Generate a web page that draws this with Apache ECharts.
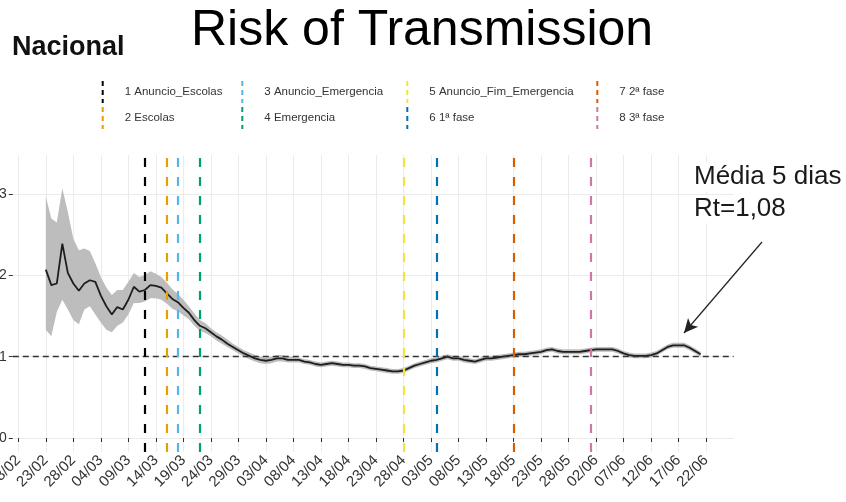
<!DOCTYPE html>
<html>
<head>
<meta charset="utf-8">
<script src="https://cdn.jsdelivr.net/npm/echarts@6/dist/echarts.min.js"></script>
<style>
html,body{margin:0;padding:0;background:#fff;}
#chart{width:846px;height:502px;}
</style>
</head>
<body>
<div id="chart"></div>
<script>
// ---------- DATA ----------
const axisDates = [
'17/02','18/02','19/02','20/02','21/02','22/02','23/02','24/02','25/02','26/02','27/02','28/02','29/02',
'01/03','02/03','03/03','04/03','05/03','06/03','07/03','08/03','09/03','10/03','11/03','12/03','13/03','14/03','15/03','16/03','17/03','18/03','19/03','20/03','21/03','22/03','23/03','24/03','25/03','26/03','27/03','28/03','29/03','30/03','31/03',
'01/04','02/04','03/04','04/04','05/04','06/04','07/04','08/04','09/04','10/04','11/04','12/04','13/04','14/04','15/04','16/04','17/04','18/04','19/04','20/04','21/04','22/04','23/04','24/04','25/04','26/04','27/04','28/04','29/04','30/04',
'01/05','02/05','03/05','04/05','05/05','06/05','07/05','08/05','09/05','10/05','11/05','12/05','13/05','14/05','15/05','16/05','17/05','18/05','19/05','20/05','21/05','22/05','23/05','24/05','25/05','26/05','27/05','28/05','29/05','30/05','31/05',
'01/06','02/06','03/06','04/06','05/06','06/06','07/06','08/06','09/06','10/06','11/06','12/06','13/06','14/06','15/06','16/06','17/06','18/06','19/06','20/06','21/06','22/06','23/06','24/06','25/06','26/06','27/06'
];
const tickLabels = ['18/02','23/02','28/02','04/03','09/03','14/03','19/03','24/03','29/03','03/04','08/04','13/04','18/04','23/04','28/04','03/05','08/05','13/05','18/05','23/05','28/05','02/06','07/06','12/06','17/06','22/06'];
const yTicks = [0, 1, 2, 3];

// Rt series starts on this date (one value per day)
const rtStart = '23/02';
const rtValues = [
2.07,1.88,1.90,2.39,2.03,1.90,1.81,1.90,1.94,1.92,
1.75,1.62,1.52,1.61,1.58,1.70,1.86,1.80,1.82,1.88,
1.87,1.85,1.78,1.71,1.67,1.60,1.54,1.45,1.38,1.35,
1.30,1.25,1.21,1.16,1.12,1.08,1.04,1.01,0.98,0.96,
0.95,0.96,0.98,0.98,0.96,0.96,0.96,0.94,0.93,0.91,
0.90,0.91,0.92,0.91,0.90,0.90,0.89,0.89,0.88,0.86,
0.85,0.84,0.83,0.82,0.82,0.83,0.86,0.89,0.91,0.93,
0.95,0.96,0.98,1.00,0.98,0.98,0.96,0.95,0.94,0.96,
0.98,0.98,0.99,1.00,1.01,1.02,1.03,1.03,1.04,1.05,
1.06,1.08,1.09,1.07,1.06,1.06,1.06,1.06,1.07,1.08,
1.09,1.09,1.09,1.09,1.07,1.04,1.02,1.01,1.01,1.01,
1.02,1.04,1.08,1.12,1.14,1.14,1.14,1.11,1.07,1.03
];
const rtLower = [
1.33,1.25,1.55,1.70,1.58,1.45,1.40,1.58,1.62,1.52,
1.42,1.33,1.30,1.38,1.42,1.52,1.66,1.66,1.68,1.72,
1.72,1.70,1.65,1.59,1.56,1.51,1.46,1.38,1.32,1.29,
1.25,1.20,1.16,1.12,1.08,1.04,1.00,0.97,0.94,0.92,
0.91,0.92,0.94,0.94,0.93,0.93,0.93,0.91,0.90,0.88,
0.87,0.88,0.89,0.88,0.87,0.87,0.86,0.86,0.85,0.83,
0.82,0.81,0.80,0.79,0.79,0.80,0.83,0.86,0.88,0.90,
0.92,0.93,0.95,0.97,0.95,0.95,0.93,0.92,0.91,0.93,
0.95,0.95,0.96,0.97,0.98,0.99,1.00,1.00,1.01,1.02,
1.03,1.05,1.06,1.04,1.03,1.03,1.03,1.03,1.04,1.05,
1.06,1.06,1.06,1.06,1.04,1.01,0.99,0.98,0.98,0.98,
0.99,1.01,1.05,1.09,1.11,1.11,1.11,1.08,1.04,1.00
];
const rtUpper = [
2.97,2.70,2.65,3.07,2.78,2.45,2.31,2.33,2.30,2.15,
1.98,1.85,1.76,1.82,1.82,1.92,2.03,1.98,2.00,2.05,
2.02,1.98,1.91,1.83,1.77,1.70,1.62,1.53,1.45,1.41,
1.35,1.30,1.26,1.21,1.16,1.12,1.08,1.05,1.02,1.00,
0.99,1.00,1.02,1.02,1.00,1.00,0.99,0.97,0.96,0.94,
0.93,0.94,0.95,0.94,0.93,0.93,0.92,0.92,0.91,0.89,
0.88,0.87,0.86,0.85,0.85,0.86,0.89,0.92,0.94,0.96,
0.98,0.99,1.01,1.03,1.01,1.01,0.99,0.98,0.97,0.99,
1.01,1.01,1.02,1.03,1.04,1.05,1.06,1.06,1.07,1.08,
1.09,1.11,1.12,1.10,1.09,1.09,1.09,1.09,1.10,1.11,
1.12,1.12,1.12,1.12,1.10,1.07,1.05,1.04,1.04,1.04,
1.05,1.07,1.11,1.15,1.17,1.17,1.17,1.14,1.10,1.06
];

const eventNames  = ['1 Anuncio_Escolas','2 Escolas','3 Anuncio_Emergencia','4 Emergencia','5 Anuncio_Fim_Emergencia','6 1ª fase','7 2ª fase','8 3ª fase'];
const eventDates  = ['12/03','16/03','18/03','22/03','28/04','04/05','18/05','01/06'];
const eventColors = ['#000000','#E69F00','#56B4E9','#009E73','#F0E442','#0072B2','#D55E00','#CC79A7'];

const refLine = 1;
const annotationLines = ['Média 5 dias', 'Rt=1,08'];

// ---------- BUILD ----------
const FONT = "'Liberation Sans', Arial, sans-serif";
const off = axisDates.indexOf(rtStart);
function align(arr) {
  return axisDates.map((d, i) => {
    const k = i - off;
    return (k >= 0 && k < arr.length) ? arr[k] : '-';
  });
}
const lowerData = align(rtLower);
const bandData = align(rtUpper.map((u, i) => +(u - rtLower[i]).toFixed(3)));
const lineData = align(rtValues);
const isTick = (idx, val) => tickLabels.indexOf(val) >= 0;

const series = [
  { name: 'ciLower', type: 'line', data: lowerData, stack: 'ci', symbol: 'none',
    lineStyle: { opacity: 0 }, silent: true, z: 1 },
  { name: 'ciBand', type: 'line', data: bandData, stack: 'ci', symbol: 'none',
    lineStyle: { opacity: 0 }, areaStyle: { color: '#bdbdbd', opacity: 1 }, silent: true, z: 1 },
  { name: 'Rt', type: 'line', data: lineData, symbol: 'none', z: 3,
    lineStyle: { color: '#1e1e1e', width: 1.8 },
    markLine: { silent: true, symbol: 'none', label: { show: false },
      lineStyle: { color: '#333', type: [6, 4], width: 1.4 },
      data: [{ yAxis: refLine }] } },
  { name: 'arrow', type: 'line', data: [], z: 6,
    markLine: { silent: true, symbol: ['none', 'arrow'], symbolSize: [10, 14], label: { show: false },
      lineStyle: { color: '#222', width: 1.2, type: 'solid' },
      data: [[{ x: 762, y: 242 }, { x: 684, y: 333 }]] } }
];
eventNames.forEach((n, i) => {
  series.push({
    name: n, type: 'line', data: [], z: 5,
    itemStyle: { color: eventColors[i] }, lineStyle: { color: eventColors[i] },
    markLine: { silent: true, symbol: 'none', label: { show: false }, animation: false,
      lineStyle: { color: eventColors[i], type: [9, 10], width: 2.2 },
      data: [{ xAxis: eventDates[i] }] }
  });
});

const keyX = [102.7, 242.3, 407.3, 597.3];
const rowTop = [81, 107];
const legendIcon = 'path://M0,0h2v5h-2zM0,9h2v5h-2zM0,18h2v4h-2z';
const legends = eventNames.map((n, i) => ({
  data: [n],
  left: keyX[Math.floor(i / 2)] - 1,
  top: rowTop[i % 2],
  padding: 0,
  icon: legendIcon,
  itemWidth: 34, itemHeight: 22,
  selectedMode: false,
  textStyle: { fontFamily: FONT, fontSize: 11.5, color: '#333' }
}));

const annFont = "26px 'Liberation Sans', Arial, sans-serif";
const chart = echarts.init(document.getElementById('chart'), null, { renderer: 'canvas' });
chart.setOption({
  animation: false,
  backgroundColor: '#fff',
  title: [
    { text: 'Risk of Transmission', left: 191, top: 6, padding: 0,
      textStyle: { fontFamily: FONT, fontSize: 50, fontWeight: 'normal', color: '#000' } },
    { text: 'Nacional', left: 12, top: 34, padding: 0,
      textStyle: { fontFamily: FONT, fontSize: 27, fontWeight: 'bold', color: '#111' } }
  ],
  legend: legends,
  grid: { left: 12.8, right: 112.4, top: 155, bottom: 50, containLabel: false, outerBoundsMode: 'none' },
  xAxis: {
    type: 'category', data: axisDates, boundaryGap: false,
    axisLine: { show: false },
    axisTick: { show: true, interval: isTick, length: 4, lineStyle: { color: '#333', width: 1 } },
    axisLabel: { interval: isTick, rotate: 45, margin: 6, fontFamily: FONT, fontSize: 15, color: '#333' },
    splitLine: { show: true, interval: isTick, lineStyle: { color: '#ebebeb', width: 1 } }
  },
  yAxis: {
    type: 'value', min: -0.172, max: 3.48,
    axisLine: { show: false },
    axisTick: { show: true, customValues: yTicks, length: 4, lineStyle: { color: '#333', width: 1 } },
    axisLabel: { customValues: yTicks, margin: 6, fontFamily: FONT, fontSize: 14, color: '#333' },
    splitLine: { show: true, lineStyle: { color: '#ebebeb', width: 1 } }
  },
  graphic: [
    { type: 'text', left: 692, top: 163, silent: true, z: 10,
      style: { text: annotationLines[0], font: annFont, fill: '#1a1a1a', backgroundColor: '#fff', padding: [1, 2] } },
    { type: 'text', left: 692, top: 195, silent: true, z: 10,
      style: { text: annotationLines[1], font: annFont, fill: '#1a1a1a', backgroundColor: '#fff', padding: [1, 2] } }
  ],
  series: series
});
</script>
</body>
</html>
